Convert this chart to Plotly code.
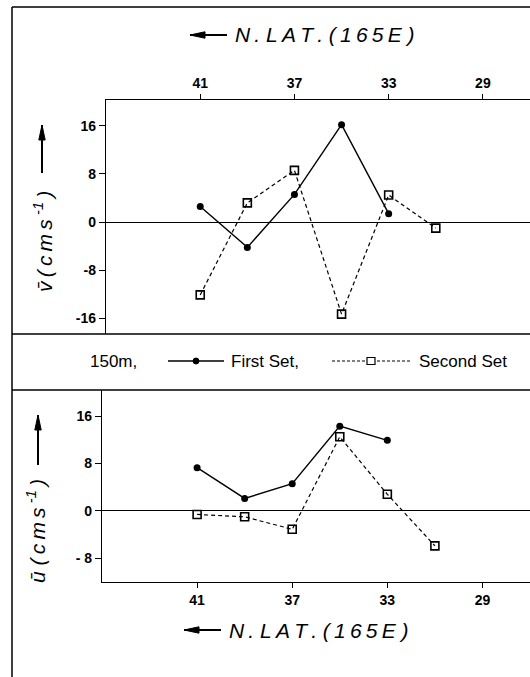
import plotly.graph_objects as go

# Station latitudes (deg N along 165E)
lat_first = [41, 39, 37, 35, 33]
lat_second = [41, 39, 37, 35, 33, 31]

# Mean meridional velocity v (cm/s) at 150 m
v_first = [2.6, -4.2, 4.6, 16.2, 1.4]
v_second = [-12.1, 3.2, 8.6, -15.3, 4.5, -1.0]

# Mean zonal velocity u (cm/s) at 150 m
u_first = [7.3, 2.1, 4.6, 14.3, 11.9]
u_second = [-0.6, -1.0, -3.1, 12.5, 2.8, -5.9]

lat_ticks = [41, 37, 33, 29]
v_ticks = [16, 8, 0, -8, -16]
v_ticktext = ["16", "8", "0", "-8", "-16"]
u_ticks = [16, 8, 0, -8]
u_ticktext = ["16", "8", "0", "- 8"]

W, H = 530, 677
SANS = "Liberation Sans, Arial, sans-serif"
TICKFONT = dict(family=SANS, size=14, color="black", weight="bold")
THIN = "\u2009"


def px(x):
    return x / W


def py(y):
    return 1 - y / H


fig = go.Figure()

first_style = dict(mode="lines+markers", line=dict(color="black", width=1.4),
                   marker=dict(symbol="circle", size=7, color="black"), showlegend=False)
second_style = dict(mode="lines+markers", line=dict(color="black", width=1.2, dash="4px,3px"),
                    marker=dict(symbol="square-open", size=8, color="black",
                                line=dict(width=1.6, color="black")), showlegend=False)

fig.add_trace(go.Scatter(x=lat_first, y=v_first, xaxis="x", yaxis="y", **first_style))
fig.add_trace(go.Scatter(x=lat_second, y=v_second, xaxis="x", yaxis="y", **second_style))
fig.add_trace(go.Scatter(x=lat_first, y=u_first, xaxis="x2", yaxis="y2", **first_style))
fig.add_trace(go.Scatter(x=lat_second, y=u_second, xaxis="x2", yaxis="y2", **second_style))

common_x = dict(range=[45, 27], tickvals=lat_ticks, ticks="outside", ticklen=5, tickwidth=1.2,
                tickcolor="black", showline=True, linecolor="black", linewidth=1.4,
                showgrid=False, zeroline=False, tickfont=TICKFONT)
common_y = dict(ticks="outside", ticklen=6, tickwidth=1.2, tickcolor="black",
                showline=True, linecolor="black", linewidth=1.4, showgrid=False,
                zeroline=True, zerolinecolor="black", zerolinewidth=1.2, tickfont=TICKFONT)

fig.update_layout(
    width=W, height=H, margin=dict(l=0, r=0, t=0, b=0),
    paper_bgcolor="white", plot_bgcolor="white",
    xaxis=dict(domain=[px(106), 1.0], anchor="y", side="top", **common_x),
    yaxis=dict(domain=[py(334), py(100)], anchor="x", range=[-18.6, 20.3],
               tickvals=v_ticks, ticktext=v_ticktext, **common_y),
    xaxis2=dict(domain=[px(102), 1.0], anchor="y2", side="bottom", **common_x),
    yaxis2=dict(domain=[py(582), py(390)], anchor="x2", range=[-12.0, 20.4],
                tickvals=u_ticks, ticktext=u_ticktext, **common_y),
)

# Panel frame lines
frame = dict(type="line", xref="paper", yref="paper", line=dict(color="black", width=1.5))
fig.add_shape(x0=px(12), x1=px(12), y0=py(7), y1=0, **frame)
fig.add_shape(x0=px(12), x1=1, y0=py(7), y1=py(7), **frame)
fig.add_shape(x0=px(12), x1=1, y0=py(334), y1=py(334), **frame)
fig.add_shape(x0=px(12), x1=1, y0=py(390), y1=py(390), **frame)


def arrow(x_head, y_head, x_tail, y_tail):
    """Thick arrow drawn as a shaft plus an elongated filled head (pixel coords)."""
    fig.add_shape(type="line", xref="paper", yref="paper",
                  x0=px(x_tail), y0=py(y_tail), x1=px(x_head), y1=py(y_head),
                  line=dict(color="black", width=2))
    dx, dy = x_tail - x_head, y_tail - y_head
    length = (dx * dx + dy * dy) ** 0.5
    ux, uy = dx / length, dy / length
    hl, hw = 15, 3.2
    bx, by = x_head + ux * hl, y_head + uy * hl
    p1 = (bx - uy * hw, by + ux * hw)
    p2 = (bx + uy * hw, by - ux * hw)
    path = (f"M {px(x_head)} {py(y_head)} L {px(p1[0])} {py(p1[1])} "
            f"L {px(p2[0])} {py(p2[1])} Z")
    fig.add_shape(type="path", xref="paper", yref="paper", path=path,
                  fillcolor="black", line=dict(color="black", width=1))


TITLE_FONT = dict(family=SANS, size=21, color="black")
lat_title = ("<i>N" + THIN + ". L" + THIN + "A" + THIN + "T" + THIN + ". (" + THIN + "1"
             + THIN + "6" + THIN + "5" + THIN + "E )</i>")

# Latitude axis titles with leftward arrows
for ytxt, head_x in [(35, 190), (630, 184)]:
    fig.add_annotation(x=px(head_x + 43), y=py(ytxt), xref="paper", yref="paper",
                       text=lat_title, showarrow=False, xanchor="left",
                       yanchor="middle", font=TITLE_FONT)
    arrow(head_x, ytxt, head_x + 37, ytxt)

# Velocity axis titles with upward arrows
unit = "(" + THIN + "c" + THIN + "m" + THIN + "s" + THIN + "<sup>-1</sup>" + THIN + ")"
v_title = "<i>v̄" + THIN + unit + "</i>"
u_title = "<i>ū " + unit + "</i>"
for label, xc, yc, x_arrow, y_head, y_tail in [
    (v_title, 43, 242, 42, 125, 173),
    (u_title, 36, 531, 38, 415, 465),
]:
    fig.add_annotation(x=px(xc), y=py(yc), xref="paper", yref="paper", text=label,
                       showarrow=False, textangle=-90, xanchor="center", yanchor="middle",
                       font=dict(family=SANS, size=21, color="black"))
    arrow(x_arrow, y_head, x_arrow, y_tail)

# Key line between the panels
KEY_FONT = dict(family=SANS, size=17, color="black")
key_y = 361
for text, xpos, anchor in [("150m,", 88, "left"), ("First Set,", 229, "left"),
                           ("Second Set", 417, "left")]:
    fig.add_annotation(x=px(xpos), y=py(key_y), xref="paper", yref="paper", text=text,
                       showarrow=False, xanchor=anchor, yanchor="middle", font=KEY_FONT)

# Key samples: solid line with dot, dashed line with open square
fig.add_shape(type="line", xref="paper", yref="paper", x0=px(168), x1=px(224),
              y0=py(key_y), y1=py(key_y), line=dict(color="black", width=1.4))
fig.add_shape(type="circle", xref="paper", yref="paper", x0=px(193), x1=px(199),
              y0=py(key_y + 3), y1=py(key_y - 3), fillcolor="black",
              line=dict(color="black", width=1))
fig.add_shape(type="line", xref="paper", yref="paper", x0=px(332), x1=px(410),
              y0=py(key_y), y1=py(key_y), line=dict(color="black", width=1.2, dash="3px,2px"))
fig.add_shape(type="rect", xref="paper", yref="paper", x0=px(367), x1=px(375),
              y0=py(key_y + 3.5), y1=py(key_y - 3.5), fillcolor="white",
              line=dict(color="black", width=1.2))

fig.write_html("out.html")
